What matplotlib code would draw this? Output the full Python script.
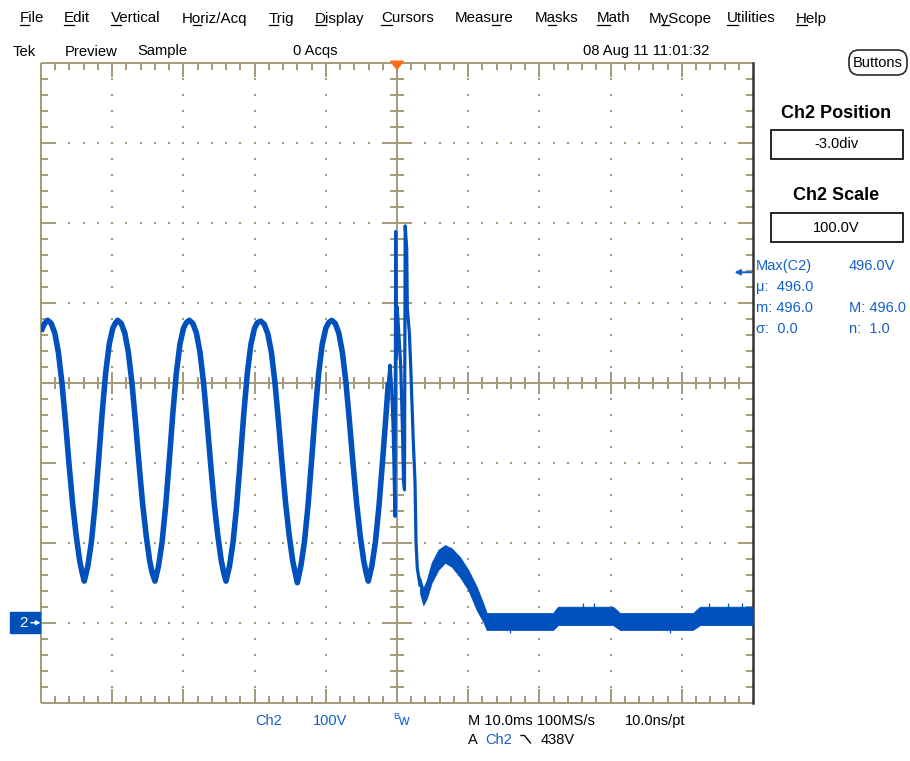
import matplotlib
matplotlib.use("Agg")
import matplotlib.pyplot as plt
from matplotlib import font_manager, transforms
from matplotlib.collections import LineCollection
from matplotlib.font_manager import FontProperties
from matplotlib.patches import Rectangle, FancyBboxPatch, Polygon

# Ch2 record: time in ms relative to the trigger, amplitude in volts
trace_t = [
    -50.00, -49.50,
    -49.06, -48.56, -48.06, -47.56, -47.06, -46.56, -46.06, -45.56, -45.06, -44.56, -44.21,
    -43.92, -43.42, -42.92, -42.42, -41.92, -41.42, -40.92, -40.42, -39.92, -39.52,
    -39.23, -38.73, -38.23, -37.73, -37.23, -36.73, -36.23, -35.73, -35.23, -34.73, -34.38,
    -33.99, -33.49, -32.99, -32.49, -31.99, -31.49, -30.99, -30.49, -29.99, -29.59,
    -29.17, -28.67, -28.17, -27.67, -27.17, -26.67, -26.17, -25.67, -25.17, -24.67, -24.32,
    -24.02, -23.52, -23.02, -22.52, -22.02, -21.52, -21.02, -20.52, -20.02, -19.62,
    -19.14, -18.64, -18.14, -17.64, -17.14, -16.64, -16.14, -15.64, -15.14, -14.64, -14.29,
    -14.00, -13.50, -13.00, -12.50, -12.00, -11.50, -11.00, -10.50, -10.00, -9.60,
    -9.17, -8.67, -8.17, -7.67, -7.17, -6.67, -6.17, -5.67, -5.17, -4.67, -4.32,
    -4.03, -3.53, -3.03, -2.53, -2.03, -1.53, -1.22,
    -0.98, -0.74, -0.52, -0.28, -0.18, -0.08, 0.02, 0.18, 0.52, 0.77, 0.91, 1.05,
    1.15, 1.36, 1.45, 1.73, 1.92, 2.06, 2.29, 2.53, 2.67, 2.85, 3.23,
]
trace_v = [
    364, 374,
    378, 374, 362, 338, 300, 251, 198, 149, 109, 77, 62,
    52, 71, 101, 146, 202, 261, 312, 348, 368, 375,
    378, 374, 362, 338, 300, 251, 198, 149, 109, 77, 62,
    52, 71, 101, 146, 202, 261, 312, 348, 368, 375,
    378, 374, 362, 338, 300, 251, 198, 149, 109, 77, 62,
    52, 71, 101, 146, 202, 261, 312, 348, 368, 375,
    377, 373, 361, 338, 300, 251, 198, 149, 109, 77, 62,
    50, 71, 101, 146, 202, 261, 312, 348, 368, 375,
    378, 374, 362, 338, 300, 251, 198, 149, 109, 77, 62,
    52, 71, 101, 146, 202, 261, 300,
    322, 293, 237, 133, 489, 330, 395, 372, 322, 240, 178, 166,
    496, 468, 393, 363, 322, 285, 226, 176, 101, 68, 47,
]

# noisy settling section: upper / lower edge of the trace band
settle_t = [3.23, 3.69, 4.17, 4.87, 5.80, 6.74, 7.68, 8.85, 10.01, 11.19,
            12.12, 12.60, 21.91, 22.61, 30.34, 31.32, 41.57, 42.56, 50.0]
settle_hi = [57, 43, 53, 75, 91, 97, 93, 82, 66, 45,
             24, 12, 12, 20, 20, 12, 12, 20, 20]
settle_lo = [37, 22, 30, 50, 66, 75, 70, 57, 41, 16,
             1, -9, -9, -3, -3, -9, -9, -3, -3]
glitch_t = [15.87, 26.17, 27.67, 38.34, 43.82, 46.49, 48.41]
glitch_v = [-13, 25, 25, -13, 25, 25, 25]

# acquisition settings
time_per_div = 10.0     # ms/div
volts_per_div = 100.0   # V/div
ch2_position = -3.0     # div
trig_level = 438        # V
n_acqs = 0

menu_items = ["File", "Edit", "Vertical", "Horiz/Acq", "Trig", "Display", "Cursors",
              "Measure", "Masks", "Math", "MyScope", "Utilities", "Help"]
menu_x = [20, 64, 111, 182, 269, 315, 381, 455, 535, 597, 649, 727, 796]
menu_hotkey = [0, 0, 0, 1, 0, 0, 0, 4, 1, 0, 1, 0, 0]

W, H = 910, 761
TRACE = "#0050BE"
BLUE = "#1560C8"
GRAT = "#A39A78"

names = {f.name for f in font_manager.fontManager.ttflist}
if "Liberation Sans Narrow" in names:
    UI_FONT, K = "Liberation Sans Narrow", 1.0
else:
    UI_FONT, K = "Liberation Sans", 0.84
FAM = [UI_FONT, "DejaVu Sans"]

fig = plt.figure(figsize=(W / 100, H / 100), dpi=100, facecolor="white")

# pixel-space layer for the instrument UI
ui = fig.add_axes([0, 0, 1, 1])
ui.set_xlim(0, W)
ui.set_ylim(H, 0)
ui.axis("off")

# graticule: 10 x 8 divisions
gl, gr, gt, gb = 41, 753, 62.7, 702.7
ax = fig.add_axes([gl / W, (H - gb) / H, (gr - gl) / W, (gb - gt) / H])
ax.patch.set_alpha(0)
ax.axis("off")
x0, x1 = -5 * time_per_div, 5 * time_per_div
y0 = (-4 - ch2_position) * volts_per_div
y1 = (4 - ch2_position) * volts_per_div
yc = -ch2_position * volts_per_div
ax.set_xlim(x0, x1)
ax.set_ylim(y0, y1)

px_t = (x1 - x0) / (gr - gl)   # ms per pixel
px_v = (y1 - y0) / (gb - gt)   # V per pixel
dt = time_per_div / 5
dv = volts_per_div / 5

segs = []
# frame (left, top, bottom)
segs += [[(x0, y0), (x0, y1)], [(x0, y1), (x1, y1)], [(x0, y0), (x1, y0)]]
# centre cross
segs += [[(x0, yc), (x1, yc)], [(0, y0), (0, y1)]]
for i in range(-24, 25):
    t = i * dt
    major = i % 5 == 0
    L = (14 if major else 7) * px_v
    segs.append([(t, y1), (t, y1 - L)])
    segs.append([(t, y0), (t, y0 + L)])
    c = (11 if major else 6) * px_v
    if i != 0:
        segs.append([(t, yc - c), (t, yc + c)])
for j in range(1, 40):
    v = y0 + j * dv
    major = j % 5 == 0
    L = (15 if major else 7) * px_t
    segs.append([(x0, v), (x0 + L, v)])
    segs.append([(x1, v), (x1 - L, v)])
    c = (14 if major else 7) * px_t
    if abs(v - yc) > 1e-6:
        segs.append([(-c, v), (c, v)])
ax.add_collection(LineCollection(segs, colors=GRAT, linewidths=1.4, clip_on=False, zorder=1))
ax.plot([x1, x1], [y0, y1], color="#333333", lw=1.8, clip_on=False, zorder=2)

# dotted division lines
dots_x, dots_y = [], []
for k in range(-4, 5):
    if k == 0:
        continue
    tx = k * time_per_div
    for j in range(1, 40):
        dots_x.append(tx)
        dots_y.append(y0 + j * dv)
for k in range(1, 8):
    vy = y0 + k * volts_per_div
    if abs(vy - yc) < 1e-6:
        continue
    for i in range(-24, 25):
        dots_x.append(i * dt)
        dots_y.append(vy)
ax.plot(dots_x, dots_y, ls="none", marker="s", ms=1.7, mew=0, color=GRAT, zorder=1)

# waveform
split = next(i for i, t in enumerate(trace_t) if t > -1.3)
ax.plot(trace_t[:split + 1], trace_v[:split + 1], color=TRACE, lw=4.0,
        solid_joinstyle="round", solid_capstyle="butt", zorder=5)
ax.plot(trace_t[split:], trace_v[split:], color=TRACE, lw=2.3,
        solid_joinstyle="round", zorder=5)
ax.fill_between(settle_t, settle_lo, settle_hi, color=TRACE, lw=0.6, zorder=5)
ax.vlines(glitch_t, [0] * len(glitch_t), glitch_v, color=TRACE, lw=0.9, zorder=5)

# trigger position and trigger level markers
top_px = transforms.blended_transform_factory(ax.transData, ui.transData)
ax.add_patch(Polygon([(-0.9, gt - 1.5), (0.9, gt - 1.5), (0, gt + 6.5)], closed=True,
                     transform=top_px, color="#FF6A1A", clip_on=False, zorder=6))
ax.annotate("", xy=(x1 - 2.6, trig_level), xytext=(x1 - 0.2, trig_level),
            arrowprops=dict(arrowstyle="-|>", color=BLUE, lw=1.4,
                            mutation_scale=8, shrinkA=0, shrinkB=0),
            annotation_clip=False, zorder=6)

# channel ground marker
left_px = transforms.blended_transform_factory(ui.transData, ax.transData)
ax.add_patch(Rectangle((10, -13), 30, 26, transform=left_px, color="#0050B8",
                       clip_on=False, zorder=6))
ax.text(23, 0, "2", transform=left_px, color="white", fontsize=13 * K,
        family=FAM, ha="center", va="center", zorder=7)
ax.annotate("", xy=(40.5, 0), xytext=(31, 0), xycoords=left_px, textcoords=left_px,
            arrowprops=dict(arrowstyle="-|>", color="white", lw=1.1,
                            mutation_scale=6, shrinkA=0, shrinkB=0),
            annotation_clip=False, zorder=7)

# menu bar
renderer = fig.canvas.get_renderer()
menu_fp = FontProperties(family=FAM, size=13 * K)
for label, x, hk in zip(menu_items, menu_x, menu_hotkey):
    ui.text(x, 22.5, label, fontproperties=menu_fp, color="black", va="baseline")
    a = renderer.get_text_width_height_descent(label[:hk], menu_fp, ismath=False)[0] if hk else 0
    b = renderer.get_text_width_height_descent(label[:hk + 1], menu_fp, ismath=False)[0]
    ui.plot([x + a, x + b], [25, 25], color="black", lw=0.9)

row2 = dict(family=FAM, fontsize=12.6 * K, color="black", va="baseline")
ui.text(13, 55.5, "Tek", **row2)
ui.text(65, 55.5, "Preview", **row2)
ui.text(137, 55.5, "Sample", **row2)
ui.text(293, 55.5, f"{n_acqs} Acqs", **row2)
ui.text(709, 55.5, "08 Aug 11 11:01:32", ha="right", **row2)

# side panel
ui.add_patch(FancyBboxPatch((849, 50), 58, 25, boxstyle="round,pad=0,rounding_size=10",
                            fc="white", ec="#2a2a2a", lw=1.2))
ui.text(878, 63, "Buttons", family=FAM, fontsize=12.5 * K, ha="center", va="center")
ui.text(836, 118, "Ch2 Position", family="Liberation Sans", fontsize=13,
        weight="bold", ha="center", va="baseline")
ui.add_patch(Rectangle((770.5, 129.5), 132, 29, fc="white", ec="black", lw=1.2))
ui.text(836.5, 144.5, f"{ch2_position:.1f}div", family=FAM, fontsize=12.5 * K,
        ha="center", va="center")
ui.text(836, 200, "Ch2 Scale", family="Liberation Sans", fontsize=13,
        weight="bold", ha="center", va="baseline")
ui.add_patch(Rectangle((770.5, 212.5), 132, 29, fc="white", ec="black", lw=1.2))
ui.text(836.5, 227.5, f"{volts_per_div:.1f}V", family=FAM, fontsize=12.5 * K,
        ha="center", va="center")

vmax = float(max(trace_v))
meas = dict(family=FAM, fontsize=12.5 * K, color=BLUE, va="baseline")
ui.text(756, 270, "Max(C2)", **meas)
ui.text(849, 270, f"{vmax:.1f}V", **meas)
ui.text(756, 291, f"\u03bc:  {vmax:.1f}", **meas)
ui.text(756, 312, f"m: {vmax:.1f}", **meas)
ui.text(849, 312, f"M: {vmax:.1f}", **meas)
ui.text(756, 333, "\u03c3:  0.0", **meas)
ui.text(849, 333, "n:  1.0", **meas)

# status line under the graticule
st = dict(family=FAM, fontsize=12.5 * K, va="baseline")
ui.text(255, 725, "Ch2", color=BLUE, **st)
ui.text(313, 725, f"{volts_per_div:.0f}V", color=BLUE, **st)
ui.text(393.5, 719, "B", color=BLUE, family=FAM, fontsize=8 * K, va="baseline")
ui.text(398.5, 725, "w", color=BLUE, **st)
ui.text(468, 725, f"M {time_per_div:.1f}ms 100MS/s", color="black", **st)
ui.text(625, 725, "10.0ns/pt", color="black", **st)
ui.text(468, 744, "A", color="black", **st)
ui.text(485, 744, "Ch2", color=BLUE, **st)
ui.plot([521, 524.5, 530.5], [735.5, 735.5, 743], color="black", lw=1.0)
ui.text(541, 744, f"{trig_level}V", color="black", **st)

fig.savefig("out.png", dpi=100, facecolor="white")
